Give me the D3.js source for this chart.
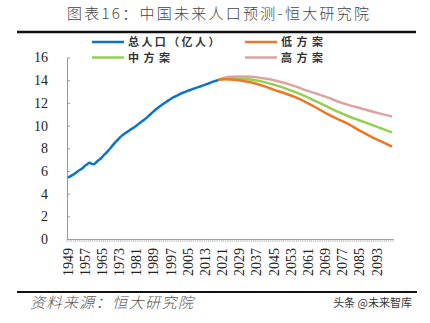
<!DOCTYPE html>
<html>
<head>
<meta charset="utf-8">
<script src="https://cdn.jsdelivr.net/npm/d3@7"></script>
<style>
html,body{margin:0;padding:0;background:#fff;}
svg{display:block;}
</style>
</head>
<body>
<svg id="c" width="430" height="323"></svg>
<script>
// ---- data ----
const title = "图表16：中国未来人口预测-恒大研究院";
const source = "资料来源：恒大研究院";
const watermark = "头条 @未来智库";
const seriesNames = ["总人口（亿人）", "低方案", "中方案", "高方案"];
const yTicks = [0, 2, 4, 6, 8, 10, 12, 14, 16];
const firstYear = 1949, lastYear = 2100;
const labelYears = [1949,1957,1965,1973,1981,1989,1997,2005,2013,2021,2029,2037,2045,2053,2061,2069,2077,2085,2093];

const totalYears = [1949,1950,1951,1952,1953,1954,1955,1956,1957,1958,1959,1960,1961,1962,1963,1964,1965,1966,1967,1968,1969,1970,1971,1972,1973,1974,1975,1976,1977,1978,1979,1980,1981,1982,1983,1984,1985,1986,1987,1988,1989,1990,1991,1992,1993,1994,1995,1996,1997,1998,1999,2000,2001,2002,2003,2004,2005,2006,2007,2008,2009,2010,2011,2012,2013,2014,2015,2016,2017,2018,2019];
const totalPop = [5.42,5.52,5.63,5.75,5.88,6.03,6.15,6.28,6.47,6.60,6.72,6.62,6.59,6.73,6.92,7.05,7.25,7.45,7.64,7.85,8.07,8.30,8.52,8.72,8.92,9.09,9.24,9.37,9.50,9.63,9.75,9.87,10.01,10.17,10.30,10.44,10.59,10.75,10.93,11.10,11.27,11.43,11.58,11.72,11.85,11.99,12.11,12.24,12.36,12.48,12.58,12.67,12.76,12.85,12.92,13.00,13.08,13.14,13.21,13.28,13.35,13.41,13.47,13.54,13.61,13.68,13.75,13.83,13.90,13.95,14.00];

const projYears = [2019,2022,2025,2030,2035,2040,2045,2050,2055,2060,2065,2070,2075,2080,2085,2090,2095,2100];
const lowPlan  = [14.03,14.08,14.05,13.95,13.78,13.50,13.15,12.85,12.50,12.05,11.55,11.00,10.55,10.10,9.55,9.05,8.60,8.15];
const midPlan  = [14.03,14.12,14.15,14.12,14.04,13.85,13.60,13.30,12.95,12.55,12.10,11.65,11.20,10.80,10.45,10.10,9.75,9.40];
const highPlan = [14.03,14.22,14.30,14.33,14.30,14.17,14.00,13.75,13.45,13.10,12.80,12.48,12.10,11.80,11.55,11.28,11.03,10.80];

const colors = {total:"#0C73C9", low:"#EE7624", mid:"#92D050", high:"#DDA3A3"};

// ---- chart ----
const svg = d3.select("#c");
const years = d3.range(firstYear, lastYear + 1);
const x = d3.scaleBand().domain(years).range([67, 393]).padding(0);
const y = d3.scaleLinear().domain([0, 16]).range([239, 57.5]);
const cx = yr => x(yr) + x.bandwidth() / 2;

// title
svg.append("text").attr("x", 218).attr("y", 19).attr("text-anchor", "middle")
  .attr("font-family", "'Noto Sans CJK SC'").attr("font-size", 15).attr("font-weight", 300).attr("fill", "#444")
  .attr("textLength", 302).attr("lengthAdjust", "spacing").text(title);
svg.append("line").attr("x1", 17).attr("x2", 416).attr("y1", 32).attr("y2", 32)
  .attr("stroke", "#111").attr("stroke-width", 2.5);

// y axis
const yAxis = d3.axisLeft(y).tickValues(yTicks).tickSize(-3).tickPadding(19).tickSizeOuter(0);
const gy = svg.append("g").attr("transform", "translate(67,0)").call(yAxis);
gy.select(".domain").attr("stroke", "#999");
gy.selectAll(".tick line").attr("stroke", "#999");
gy.selectAll("text").attr("font-family", "'Liberation Serif'").attr("font-size", 14).attr("fill", "#222");

// x axis (tick each year, labels every 8 years)
const xAxis = d3.axisBottom(x).tickValues(labelYears).tickSize(0).tickPadding(0).tickSizeOuter(0);
const gx = svg.append("g").attr("transform", "translate(0,239)").call(xAxis);
gx.select(".domain").attr("stroke", "#999");
gx.selectAll("text").attr("font-family", "'Liberation Serif'").attr("font-size", 14).attr("fill", "#222")
  .attr("transform", "rotate(-90)").attr("text-anchor", "end").attr("dy", "0.33em").attr("dx", "-9px").attr("y", 0).attr("x", 0);
gx.selectAll(".minor").data(years.concat([lastYear + 1])).enter().append("line")
  .attr("class", "minor")
  .attr("x1", (d, i) => i < years.length ? x(d) : x(lastYear) + x.bandwidth())
  .attr("x2", (d, i) => i < years.length ? x(d) : x(lastYear) + x.bandwidth())
  .attr("y1", 0).attr("y2", 3).attr("stroke", "#aaa").attr("stroke-width", 0.7);

// lines
const line = d3.line().x(d => cx(d[0])).y(d => y(d[1])).curve(d3.curveMonotoneX);
const zip = (a, b) => a.map((v, i) => [v, b[i]]);
svg.append("path").datum(zip(projYears, highPlan)).attr("d", line).attr("fill", "none").attr("stroke", colors.high).attr("stroke-width", 2.5);
svg.append("path").datum(zip(projYears, midPlan)).attr("d", line).attr("fill", "none").attr("stroke", colors.mid).attr("stroke-width", 2.5);
svg.append("path").datum(zip(projYears, lowPlan)).attr("d", line).attr("fill", "none").attr("stroke", colors.low).attr("stroke-width", 2.5);
svg.append("path").datum(zip(totalYears, totalPop)).attr("d", line).attr("fill", "none").attr("stroke", colors.total).attr("stroke-width", 2.5);

// legend
const legend = [
  {name: seriesNames[0], c: colors.total, lx: 92, ly: 42},
  {name: seriesNames[2], c: colors.mid, lx: 92, ly: 57.5},
  {name: seriesNames[1], c: colors.low, lx: 245, ly: 42},
  {name: seriesNames[3], c: colors.high, lx: 245, ly: 57.5}
];
const lg = svg.append("g");
legend.forEach(l => {
  lg.append("line").attr("x1", l.lx).attr("x2", l.lx + 32).attr("y1", l.ly).attr("y2", l.ly)
    .attr("stroke", l.c).attr("stroke-width", 2.5);
  lg.append("text").attr("x", l.lx + 36).attr("y", l.ly + 4)
    .attr("font-family", "'Noto Sans CJK SC'").attr("font-size", 11).attr("font-weight", "bold")
    .attr("letter-spacing", l.name.length > 3 ? 2.4 : 4.5).attr("fill", "#333").text(l.name);
});

// footer
svg.append("line").attr("x1", 17).attr("x2", 417).attr("y1", 292).attr("y2", 292)
  .attr("stroke", "#111").attr("stroke-width", 2);
svg.append("text").attr("transform", "translate(30,308) skewX(-14)").attr("font-family", "'Noto Sans CJK SC'")
  .attr("font-size", 15).attr("font-weight", 300).attr("fill", "#555")
  .attr("textLength", 163).attr("lengthAdjust", "spacing").text(source);
svg.append("text").attr("x", 412).attr("y", 307).attr("text-anchor", "end").attr("font-family", "'Noto Sans CJK SC'")
  .attr("font-size", 11).attr("fill", "#333").text(watermark);
</script>
</body>
</html>
